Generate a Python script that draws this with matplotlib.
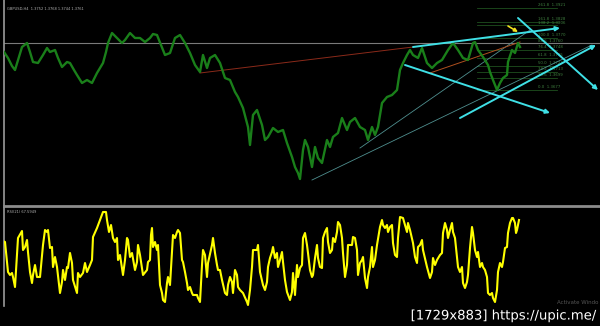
import matplotlib.pyplot as plt
import matplotlib.patheffects as pe

# price path (bar position, price level, screen units)
price_x = [4, 8, 12, 15, 18, 22, 27, 30, 33, 38, 43, 47, 50, 55, 58, 62, 67, 70, 74, 77,
           82, 87, 92, 97, 100, 103, 106, 108, 112, 117, 122, 125, 130, 135, 140, 145, 150,
           153, 157, 161, 165, 170, 175, 180, 185, 190, 195, 200, 203, 207, 210, 215, 220,
           225, 230, 235, 238, 243, 248, 250, 253, 257, 262, 265, 268, 273, 278, 283, 287,
           292, 295, 298, 300, 303, 305, 308, 312, 315, 318, 322, 327, 330, 333, 338, 342,
           347, 350, 355, 360, 365, 368, 372, 375, 378, 382, 387, 392, 397, 400, 403, 407,
           410, 413, 418, 422, 427, 432, 437, 442, 448, 453, 458, 463, 468, 473, 475, 478,
           483, 488, 490, 493, 497, 500, 503, 507, 508, 512, 515, 518, 520]
price_y = [52, 58, 66, 70, 60, 47, 43, 52, 62, 63, 55, 48, 52, 50, 58, 67, 62, 63, 70, 75,
           83, 80, 83, 73, 68, 63, 52, 43, 33, 38, 43, 40, 33, 38, 38, 42, 38,
           34, 35, 45, 55, 53, 38, 35, 43, 53, 65, 72, 55, 68, 58, 55, 63,
           78, 80, 92, 97, 108, 127, 145, 115, 110, 125, 140, 137, 128, 132, 130, 143,
           157, 167, 173, 179, 150, 140, 147, 167, 147, 158, 163, 140, 147, 137, 133, 118,
           130, 122, 118, 127, 130, 140, 127, 135, 127, 103, 97, 95, 90, 70, 63, 55,
           50, 55, 58, 48, 63, 68, 63, 60, 50, 43, 50, 58, 60, 43, 42, 50,
           57, 65, 72, 80, 90, 83, 78, 75, 62, 50, 53, 43, 47]

# oscillator path
osc_x = [3, 5, 8, 10, 12, 13, 15, 17, 18, 22, 23, 25, 27, 28, 30, 32, 33, 35, 37, 40,
         43, 45, 47, 48, 50, 52, 53, 55, 57, 60, 62, 63, 65, 67, 68, 70, 72, 73, 77, 78,
         80, 83, 85, 87, 90, 92, 93, 97, 100, 103, 106, 107, 109, 111, 113, 115, 117, 118,
         120, 123, 125, 127, 128, 130, 132, 135, 137, 138, 140, 143, 147, 148, 150, 151,
         152, 153, 155, 157, 158, 160, 162, 163, 165, 167, 168, 170, 173, 175, 177, 178,
         180, 182, 183, 185, 187, 188, 190, 192, 193, 197, 198, 200, 202, 203, 205, 207,
         208, 212, 213, 215, 217, 218, 220, 222, 225, 227, 228, 230, 232, 233, 235, 237,
         238, 240, 243, 247, 248, 250, 252, 253, 257, 258, 260, 263, 265, 267, 268, 270,
         272, 273, 275, 277, 278, 280, 282, 283, 285, 287, 290, 292, 293, 295, 297, 298,
         300, 302, 303, 305, 307, 308, 310, 312, 313, 315, 317, 318, 320, 322, 323, 325,
         327, 328, 330, 332, 333, 335, 337, 338, 340, 342, 343, 345, 347, 348, 352, 353,
         355, 357, 358, 360, 362, 363, 365, 367, 368, 370, 372, 373, 375, 377, 380, 382,
         383, 385, 387, 388, 390, 392, 393, 395, 397, 398, 400, 403, 407, 408, 410, 413,
         415, 417, 418, 420, 422, 423, 427, 430, 432, 433, 435, 437, 440, 442, 443, 445,
         447, 448, 450, 452, 453, 455, 458, 460, 462, 463, 465, 467, 468, 470, 472, 473,
         475, 477, 478, 480, 482, 483, 485, 487, 488, 490, 492, 493, 495, 497, 498, 500,
         502, 503, 505, 507, 508, 510, 512, 513, 515, 516, 517, 519]
osc_y = [241, 242, 272, 275, 273, 277, 287, 255, 238, 231, 250, 247, 240, 252, 272, 283, 275, 265, 277, 277,
         245, 230, 232, 230, 248, 247, 267, 257, 267, 293, 282, 270, 280, 267, 268, 253, 263, 280, 293, 273,
         277, 273, 263, 272, 265, 260, 237, 228, 220, 212, 212, 220, 232, 225, 238, 242, 238, 260,
         255, 275, 260, 238, 240, 257, 253, 270, 262, 245, 255, 275, 270, 262, 260, 235,
         228, 247, 242, 250, 245, 285, 293, 300, 302, 283, 277, 285, 235, 238, 232, 230,
         233, 260, 262, 272, 283, 290, 287, 293, 295, 295, 298, 302, 265, 250, 255, 277,
         263, 245, 238, 253, 265, 270, 270, 280, 293, 295, 285, 277, 282, 293, 270, 275,
         287, 290, 293, 302, 305, 290, 267, 250, 250, 245, 272, 285, 290, 282, 267, 258,
         252, 247, 258, 253, 267, 260, 252, 262, 280, 292, 300, 292, 273, 295, 265, 277,
         268, 265, 238, 233, 245, 253, 270, 277, 275, 258, 245, 258, 267, 268, 238, 232,
         228, 242, 253, 250, 238, 242, 232, 222, 225, 238, 253, 277, 265, 245, 245, 237,
         238, 250, 275, 263, 260, 257, 278, 288, 277, 267, 247, 267, 260, 245, 227, 220,
         225, 228, 225, 232, 227, 225, 243, 255, 257, 238, 217, 218, 232, 223, 230, 243,
         257, 263, 247, 245, 240, 250, 267, 278, 272, 258, 265, 260, 255, 253, 233, 223,
         230, 238, 230, 223, 232, 238, 267, 272, 267, 283, 288, 282, 275, 248, 227, 233,
         250, 257, 252, 267, 263, 267, 270, 277, 293, 295, 293, 298, 302, 290, 272, 263,
         267, 262, 248, 247, 233, 223, 218, 218, 223, 233, 230, 220]

# drawn objects: (x0, y0, x1, y1)
arrow_lines = [(413, 47, 560, 28), (405, 65, 550, 113), (518, 18, 598, 90), (460, 118, 596, 45)]
channel_lines = [(360, 148, 530, 30), (312, 180, 592, 45)]
brown_line = (200, 73, 413, 47)
orange_line = (430, 73, 520, 42)
hline_level = 43
fib_levels = [8, 22, 25, 38, 43, 50, 58, 66, 72, 78, 90]
fib_labels = ["261.8  1.3921", "161.8  1.3828", "138.2  1.3806", "100.0  1.3770", "88.6  1.3760",
              "76.4  1.3748", "61.8  1.3735", "50.0  1.3724", "38.2  1.3713", "23.6  1.3699",
              "0.0  1.3677"]

bg = 'black'
fig = plt.figure(figsize=(6, 3.26), dpi=100, facecolor=bg)
ax = fig.add_axes([4/600, 1 - 206/326, 596/600, 206/326], facecolor=bg)
ax2 = fig.add_axes([4/600, 1 - 306/326, 596/600, 98/326], facecolor=bg)

for a in (ax, ax2):
    a.set_xlim(4, 600)
    a.set_xticks([])
    a.set_yticks([])
    for s in a.spines.values():
        s.set_visible(False)
    a.spines['left'].set_visible(True)
    a.spines['left'].set_color('#9a9a9a')
    a.spines['left'].set_linewidth(1.2)
ax.set_ylim(206, 0)
ax2.set_ylim(306, 208)
ax.spines['bottom'].set_visible(True)
ax.spines['bottom'].set_color('#8c8c8c')
ax.spines['bottom'].set_linewidth(2)

# fib levels
for lv, lb in zip(fib_levels, fib_labels):
    ax.plot([477, 557], [lv, lv], color='#1f4f1f', lw=0.6, zorder=1)
    ax.text(538, lv - 0.5, lb, color='#3f7f3f', fontsize=2.8, va='bottom', zorder=1)

ax.axhline(hline_level, color='#7a7a7a', lw=0.8, zorder=1)
for x0, y0, x1, y1 in channel_lines:
    ax.plot([x0, x1], [y0, y1], color='#4f8f8f', lw=0.6, zorder=2)
ax.plot(brown_line[::2], brown_line[1::2], color='#8b2a1a', lw=0.7, zorder=2)
ax.plot(orange_line[::2], orange_line[1::2], color='#b0501f', lw=0.7, zorder=2)

ax.plot(price_x, price_y, color='#1a7f1a', lw=1.7, zorder=3)

for x0, y0, x1, y1 in arrow_lines:
    ax.annotate('', xy=(x1, y1), xytext=(x0, y0),
                arrowprops=dict(arrowstyle='-|>', color='#3fe0e6', lw=1.4,
                                mutation_scale=6, shrinkA=0, shrinkB=0), zorder=4)
ax.annotate('', xy=(518, 32), xytext=(508, 26),
            arrowprops=dict(arrowstyle='-|>', color='#f0e020', lw=1.2,
                            mutation_scale=5, shrinkA=0, shrinkB=0), zorder=4)

ax.text(7, 9, "GBPUSD,H4  1.3752 1.3768 1.3744 1.3761", color='#b0b0b0', fontsize=2.6, va='center')
ax2.text(7, 212, "RSI(21) 67.5949", color='#b0b0b0', fontsize=2.6, va='center')

ax2.plot(osc_x, osc_y, color='#ffff00', lw=1.5, zorder=3)

fig.text(557/600, 1 - 302/326, "Activate Windo", color='#555555', fontsize=4, va='center')
fig.text(598/600, 1 - 316/326, "[1729x883] https://upic.me/", color='white', fontsize=9.5,
         ha='right', va='center', family='DejaVu Sans',
         path_effects=[pe.withStroke(linewidth=2, foreground='black')])

fig.savefig('out.png', dpi=100, facecolor=bg)
